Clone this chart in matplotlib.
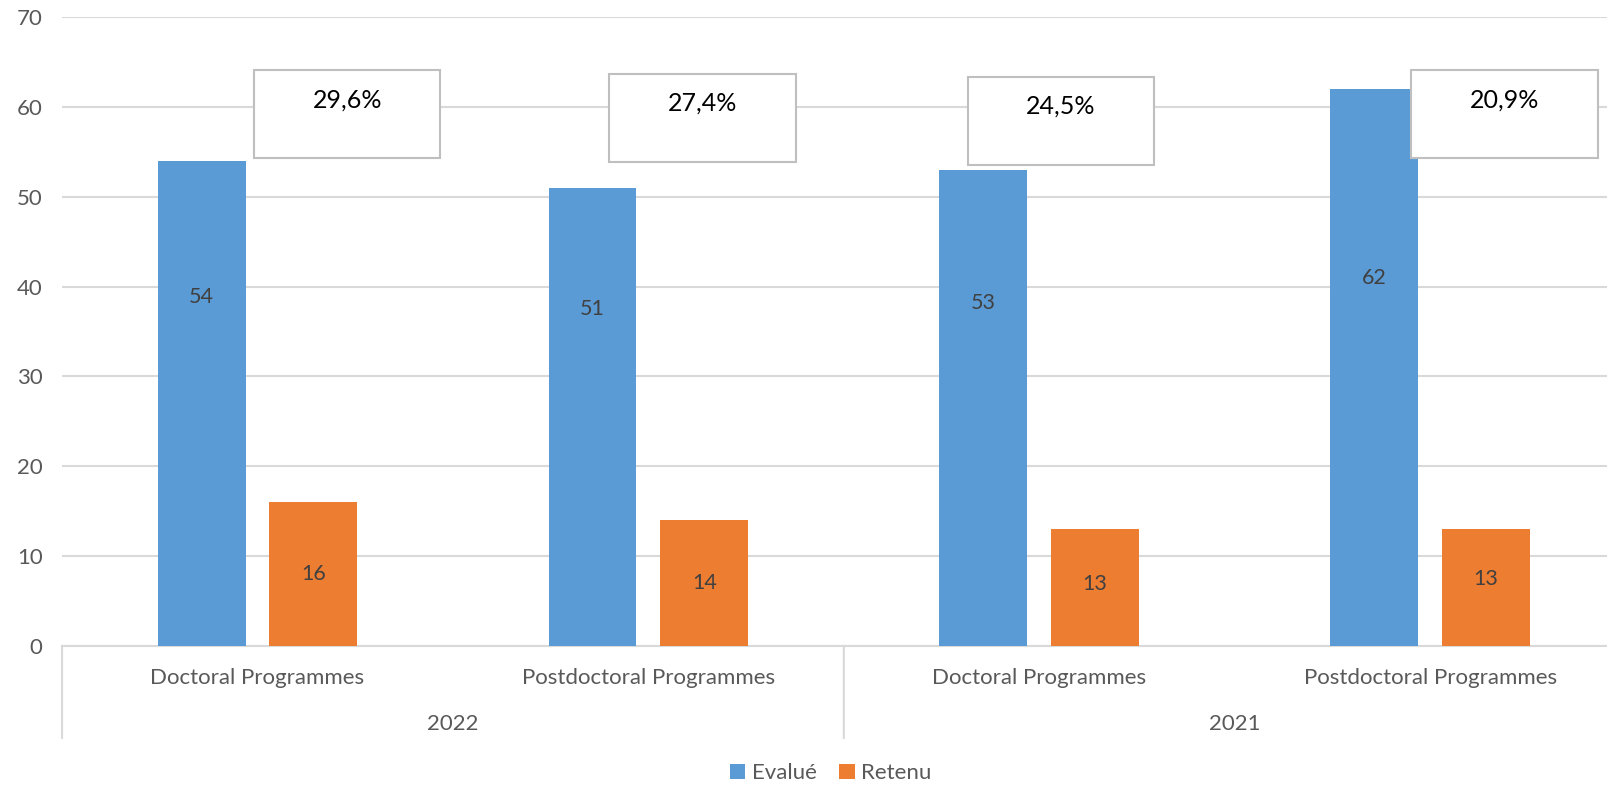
import matplotlib.pyplot as plt
from matplotlib.patches import Rectangle
import matplotlib.transforms as mtransforms

plt.rcParams["font.family"] = ["Lato", "DejaVu Sans"]

# ============================================================
# Donnees
# ============================================================
annees = ["2022", "2021"]
programmes = ["Doctoral Programmes", "Postdoctoral Programmes",
              "Doctoral Programmes", "Postdoctoral Programmes"]
evalue = [54, 51, 53, 62]
retenu = [16, 14, 13, 13]
taux = ["29,6%", "27,4%", "24,5%", "20,9%"]

# mise en page (positions des etiquettes et des encadres, comme dans l'original)
pos_lbl_evalue = [0.72, 0.735, 0.72, 0.66]   # fraction de la hauteur de barre
pos_lbl_retenu = [0.50, 0.50, 0.53, 0.57]
box_dx = [-0.009, -0.100, -0.183, -0.048]     # decalage gauche de l'encadre
box_top = [64.1, 63.7, 63.4, 64.1]

BLEU = "#5B9BD5"
ORANGE = "#ED7D31"
GRILLE = "#D9D9D9"
GRIS = "#595959"

fig = plt.figure(figsize=(16.07, 7.86), dpi=100)
# l'axe deborde a droite, comme dans le graphique d'origine
ax = fig.add_axes([0.0386, 0.1785, 0.973, 0.7995])

x = list(range(len(programmes)))
w = 0.225
off = 0.143
ax.bar([i - off for i in x], evalue, width=w, color=BLEU, zorder=3, label="Evalué")
ax.bar([i + off for i in x], retenu, width=w, color=ORANGE, zorder=3, label="Retenu")

for i in x:
    ax.text(i - off, evalue[i] * pos_lbl_evalue[i], str(evalue[i]), ha="center",
            va="center", fontsize=15.5, color="#404040", zorder=4)
    ax.text(i + off, retenu[i] * pos_lbl_retenu[i], str(retenu[i]), ha="center",
            va="center", fontsize=15.5, color="#404040", zorder=4)
    # encadre avec le taux de reussite
    bw, bh = 0.477, 9.8
    left = i + box_dx[i]
    ax.add_patch(Rectangle((left, box_top[i] - bh), bw, bh, facecolor="white",
                           edgecolor="#BFBFBF", linewidth=1.5, zorder=5))
    ax.text(left + bw / 2, box_top[i] - 3.3, taux[i], ha="center", va="center",
            fontsize=18, color="black", zorder=6)

ax.set_xlim(-0.5, 3.5)
ax.set_ylim(0, 70)
ax.set_yticks(range(0, 71, 10))
ax.tick_params(axis="y", length=0, pad=14, labelsize=16, labelcolor=GRIS)
ax.set_xticks([])
ax.grid(axis="y", color=GRILLE, linewidth=1.5, zorder=0)
for s in ["top", "right", "left"]:
    ax.spines[s].set_visible(False)
ax.spines["bottom"].set_color(GRILLE)
ax.spines["bottom"].set_linewidth(1.5)

# axe des categories a deux niveaux
trans = mtransforms.blended_transform_factory(ax.transData, ax.transAxes)
for i in x:
    ax.annotate(programmes[i], xy=(i, 0), xycoords=trans, xytext=(0, -32),
                textcoords="offset pixels", ha="center", va="center",
                fontsize=16, color=GRIS, annotation_clip=False)
for k, an in enumerate(annees):
    ax.annotate(an, xy=(2 * k + 0.5, 0), xycoords=trans, xytext=(0, -78),
                textcoords="offset pixels", ha="center", va="center",
                fontsize=16, color=GRIS, annotation_clip=False)
for xs in [-0.5, 1.5, 3.5]:
    ax.annotate("", xy=(xs, 0), xycoords=trans, xytext=(xs, -0.147),
                textcoords=trans, arrowprops=dict(arrowstyle="-", color=GRILLE, lw=1.5,
                                                  shrinkA=0, shrinkB=0),
                annotation_clip=False)

fig.legend(loc="center", bbox_to_anchor=(0.517, 0.016), ncol=2, frameon=False,
           fontsize=16, labelcolor=GRIS, handlelength=0.7, handleheight=0.7,
           handletextpad=0.3, columnspacing=1.0)

fig.savefig("out.png", dpi=100)
